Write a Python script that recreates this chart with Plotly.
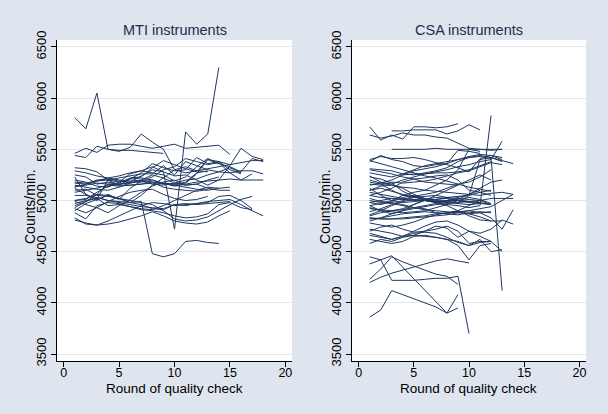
import plotly.graph_objects as go

# ---------------- data ----------------
mti_series = [
    [5810, 5700, 6050, 5500, 5490, 5490, 5480, 5470, 5460],
    [5460, 5510, 5470, 5540, 5550, 5550, 5530, 5510, 5530, 5550, 5510, 5520, 5530, 5540, 5450],
    [5440, 5420, 5530, 5500, 5480, 5520, 5650, 5570, 5500, 5300, 5270, 5290, 5310, 5330, 5350],
    [5130, 5160, 5190, 5220, 5240, 5270, 5290, 5330, 5280, 4720, 5670, 5550, 5650, 6300],
    [4950, 4990, 5030, 5000, 4990, 4980, 4990, 4480, 4450, 4480, 4600, 4610, 4590, 4580],
    [5320, 5310, 5280, 5200, 5150, 5210, 5270, 5360, 5320, 5290, 5300, 5420, 5360, 5380, 5350, 5370, 5390, 5390],
    [5290, 5270, 5240, 5220, 5200, 5190, 5200, 5180, 5170, 5160, 5170, 5260, 5400, 5360, 5330, 5280, 5410, 5380],
    [5250, 5230, 5160, 5180, 5160, 5170, 5190, 5160, 5150, 5170, 5200, 5210, 5250, 5280, 5270, 5290, 5290, 5260],
    [5170, 5160, 5200, 5210, 5190, 5180, 5180, 5200, 5170, 5140, 5160, 5180, 5190, 5200, 5210, 5200, 5200, 5200],
    [4830, 4770, 4760, 4800, 4850, 4900, 4950, 4980, 4970, 4950, 4960, 4970, 4990, 5000, 5010, 4960, 4900, 4850],
    [5100, 5110, 5050, 5040, 5020, 4980, 4960, 4920, 4910, 4960, 4950, 4970, 4980, 5040, 5050, 5000, 4920],
    [4880, 4820, 4950, 4980, 4970, 4940, 4910, 4900, 4880, 4850, 4830, 4840, 4870, 4960, 4980, 4930, 4910],
    [5000, 5020, 5060, 5050, 5020, 5000, 4980, 4960, 4900, 4820, 4800, 4810, 4840, 4900, 4960, 5010, 5040],
    [4810, 4780, 4760, 4770, 4790, 4820, 4850, 4890, 4850, 4800, 4780, 4770, 4790, 4850, 4900],
    [5230, 5060, 5010, 5200, 5220, 5240, 5260, 5260, 5340, 5250, 5380, 5340, 5300, 5280, 5320, 5270],
    [5120, 5060, 5000, 5060, 5010, 5120, 5190, 5230, 5300, 5330, 5410, 5380, 5350, 5370, 5270, 5200, 5260],
    [5000, 5010, 5080, 5140, 5160, 5180, 5240, 5300, 5280, 5240, 5250, 5200, 5150, 5200, 5340, 5510, 5430, 5400],
    [4930, 4990, 5060, 5160, 5170, 5220, 5230, 5320, 5390, 5350, 5310, 5280, 5400, 5380, 5300, 5260],
    [4990, 4960, 4930, 4880, 4950, 5010, 5080, 5140, 5180, 5200, 5150, 5160, 5120, 5100, 5100],
    [5140, 5150, 5170, 5160, 5150, 5150, 5160, 5170, 5170, 5150, 5130, 5110, 5100, 5120, 5130],
    [5050, 5050, 5030, 5000, 4980, 4960, 4940, 4930, 4920, 4960, 4970, 4960, 4970, 4980, 4990],
    [4970, 5000, 5020, 4950, 4960, 4940, 4920, 4910, 4950, 5000, 5050, 5100, 5130, 5120],
    [5200, 5180, 5140, 5130, 5180, 5260, 5290, 5270, 5250, 5190, 5230, 5330, 5410, 5360],
    [4900, 4970, 5010, 5050, 5020, 4980, 5050, 5150, 5220, 5300, 5330, 5290, 5280],
    [5150, 5130, 5110, 5100, 5130, 5170, 5200, 5250, 5220, 5170, 5150, 5160, 5200, 5230],
    [5080, 5100, 5120, 5150, 5140, 5150, 5160, 5180, 5130, 5110, 5100, 5090, 5110],
    [4920, 4880, 4930, 4990, 5040, 5080, 5100, 5110, 5060, 5020, 5000, 5010, 5040],
    [5180, 5170, 5190, 5200, 5180, 5210, 5220, 5200, 5160, 5150, 5180, 5270, 5290],
]

csa_series = [
    [5720, 5590, 5640, 5600, 5720, 5720, 5710, 5720, 5750],
    [None, None, 5680, 5680, 5690, 5690, 5690, 5650, 5680, 5740, 5690],
    [5640, 5610, 5630, 5660, 5640, 5640, 5620, 5610, 5560, 5510, 5500, 5490, 5500],
    [None, None, 5500, 5500, 5500, 5500, 5510, 5500, 5500, 5500, 5500, 5500, 5500],
    [5180, 5160, 5100, 5050, 5040, 5000, 4980, 4960, 4950, 4930, 4950, 5830],
    [5380, 5440, 5400, 5380, 5340, 5330, 5350, 5360, 5400, 5420, 5430, 5410, 4120],
    [5310, 5300, 5290, 5260, 5250, 5270, 5290, 5320, 5380, 5420, 5440, 5420, 5390, 5360],
    [5240, 5180, 5160, 5200, 5230, 5260, 5280, 5300, 5330, 5350, 5380, 5400, 5580],
    [5160, 5150, 5180, 5170, 5180, 5190, 5210, 5240, 5270, 5290, 5330, 5370, 5350],
    [5100, 5140, 5150, 5130, 5120, 5100, 5090, 5080, 5070, 5060, 5050, 5070, 5080, 5060],
    [5050, 5030, 5020, 5010, 5000, 5000, 5010, 5020, 5000, 4990, 5000, 5020, 5020, 5020],
    [4980, 4960, 4990, 5030, 5050, 5010, 4980, 4990, 5000, 4980, 4970, 4960],
    [4830, 4820, 4820, 4830, 4840, 4850, 4870, 4880, 4890, 4900, 4880, 4830, 4720, 4910],
    [4660, 4640, 4620, 4650, 4660, 4650, 4640, 4620, 4600, 4560, 4590, 4600],
    [4620, 4600, 4580, 4600, 4650, 4660, 4640, 4620, 4560, 4420, 4560, 4580],
    [4580, 4620, 4600, 4640, 4660, 4700, 4720, 4750, 4700, 4580, 4600, 4600, 4500],
    [4720, 4700, 4680, 4650, 4680, 4690, 4680, 4640, 4590, 4560, 4620, 4500, 4520],
    [4700, 4740, 4760, 4720, 4690, 4700, 4750, 4730, 4640, 4700, 4680, 4720, 4810, 4770],
    [5000, 4980, 4970, 4950, 4930, 4920, 4880, 4870, 4900, 4950, 5000, 4960],
    [4930, 4900, 4890, 4880, 4890, 4900, 4930, 4960, 5000, 5030, 5010, 4970],
    [4850, 4880, 4900, 4920, 4960, 5010, 5030, 5020, 5000, 4990, 4980],
    [5200, 5170, 5150, 5120, 5060, 5020, 4990, 4980, 4970, 4960, 4970],
    [5120, 5050, 5000, 4980, 4990, 5000, 5010, 5030, 5040, 5050, 5080, 5100],
    [4980, 5000, 5020, 5010, 5040, 5060, 5080, 5120, 5160, 5180, 5230, 5300],
    [4890, 4920, 4960, 5000, 5030, 5040, 5050, 5030, 5020, 5010, 5000],
    [5390, 5360, 5330, 5300, 5270, 5240, 5220, 5190, 5160, 5130, 5110, 5090],
    [4820, 4830, 4850, 4870, 4880, 4890, 4880, 4870, 4860, 4880, 4890, 4880],
    [4780, 4760, 4740, 4760, 4790, 4830, 4860, 4880, 4900, 4870, 4840, 4800],
    [5270, 5250, 5230, 5260, 5300, 5340, 5360, 5380, 5400, 5430, 5450, 5440, 5420],
    [5150, 5170, 5200, 5250, 5290, 5310, 5330, 5360, 5490, 5480, 5460],
    [5400, 5430, 5410, 5410, 5420, 5400, 5370, 5350, 5320, 5280, 5410, 5440, 5400],
    [4950, 4900, 4870, 4900, 4960, 5000, 5050, 5100, 5150, 5200, 5250, 5200],
    [4860, 4900, 4950, 4990, 5010, 5000, 4980, 4950, 4900, 4850, 4810, 4800, 4800],
    [5050, 5080, 5120, 5180, 5210, 5220, 5240, 5250, 5200, 5100, 5080, 5050],
    [5230, 5210, 5170, 5090, 5040, 5000, 4990, 5000, 5010, 5060, 5120, 5180, 5200],
    [4680, 4650, 4620, 4650, 4700, 4750, 4790, 4800, 4760, 4700, 4650, 4600],
    [None, None, None, 5250, 5260, 5260, 5270, 5270, 5280, 5300, 5340, 5380],
    [5020, 4990, 4980, 4960, 4930, 4910, 4900, 4890, 4880, 4870, 4880, 4890],
    [4800, 4830, 4870, 4900, 4920, 4940, 4960, 4970, 4980, 4990],
    [5100, 5120, 5090, 5060, 5030, 5020, 5000, 4990, 4980, 5050, 5400, 5420, 5380],
    [4950, 4970, 5000, 5050, 5080, 5100, 5150, 5200, 5300, 5500, 5480],
    [4920, 4910, 4900, 4910, 4930, 4950, 4970, 5000, 5030, 5060, 5100],
    [5300, 5280, 5260, 5230, 5210, 5180, 5170, 5160, 5150],
    [4450, 4420, 4460, 4350, 4240, 4120, 4010, 3900, 4080],
    [3860, 3930, 4120, 4080, 4040, 4000, 3960, 3900, 3950],
    [4380, 4420, 4220, 4220, 4220, 4230, 4240, 4240, 4260, 3700],
    [4200, 4250, 4290, 4320, 4350, 4380, 4410, 4430, 4410, 4390],
    [4230, 4330, 4450, 4400, 4360, 4320, 4280, 4260, 4180],
    [5080, 5060, 5040, 5020, 5010, 5000, 4990, 5000, 5000, 4990, 4980, 4960],
    [4830, 4820, 4820, 4820, 4830, 4840, 4850, 4860, 4880, 4900, 4920, 4940, 5000, 5060],
]

panel_titles = ["MTI instruments", "CSA instruments"]
x_ticks = [0, 5, 10, 15, 20]
y_ticks = [3500, 4000, 4500, 5000, 5500, 6000, 6500]
x_title = "Round of quality check"
y_title = "Counts/min."

# ---------------- style ----------------
BG = "#dfe5ef"
LINE = "#1e3761"
FONT = "Liberation Sans, Arial, sans-serif"

fig = go.Figure()

for axis_suffix, series_list in (("", mti_series), ("2", csa_series)):
    for s in series_list:
        fig.add_trace(go.Scatter(
            x=list(range(1, len(s) + 1)), y=s,
            mode="lines", line=dict(color=LINE, width=1),
            xaxis="x" + axis_suffix, yaxis="y" + axis_suffix,
            showlegend=False, hoverinfo="skip", connectgaps=False,
        ))

W, H = 608, 414
def fx(px):
    return px / W
def fy(py):
    return 1 - py / H

xaxis_common = dict(
    range=[-0.6, 20.6], tickvals=x_ticks, ticks="outside", ticklen=5,
    tickcolor="black", showline=True, linecolor="black", linewidth=1,
    showgrid=False, zeroline=False, automargin=False, ticklabelstandoff=-5,
    tickfont=dict(size=12.5, color="black", family=FONT),
)
yaxis_common = dict(
    range=[3432, 6568], tickvals=y_ticks, ticks="outside", ticklen=5,
    tickcolor="black", showline=True, linecolor="black", linewidth=1,
    showgrid=True, gridcolor="#e3e6ea", gridwidth=1, zeroline=False, automargin=False,
    tickangle=-90, tickfont=dict(size=13, color="black", family=FONT),
)

panels = [(57, 292), (352, 586)]
annotations = []
for (x0, x1), title in zip(panels, panel_titles):
    cx = (fx(x0) + fx(x1)) / 2
    annotations.append(dict(text=title, x=cx, y=fy(30), xref="paper", yref="paper",
                            xanchor="center", yanchor="middle", showarrow=False,
                            font=dict(size=14.5, color="#1c2e4a", family=FONT)))
    annotations.append(dict(text=x_title, x=cx, y=fy(388), xref="paper", yref="paper",
                            xanchor="center", yanchor="middle", showarrow=False,
                            font=dict(size=13.5, color="black", family=FONT)))
    annotations.append(dict(text=y_title, x=fx(x0 - 27), y=fy(207), xref="paper", yref="paper",
                            xanchor="center", yanchor="middle", showarrow=False, textangle=-90,
                            font=dict(size=14, color="black", family=FONT)))

fig.update_layout(
    width=W, height=H,
    margin=dict(l=0, r=0, t=0, b=0, autoexpand=False),
    paper_bgcolor=BG, plot_bgcolor="white",
    font=dict(family=FONT),
    xaxis=dict(domain=[fx(57), fx(292)], anchor="y", **xaxis_common),
    yaxis=dict(domain=[fy(361), fy(40)], anchor="x", **yaxis_common),
    xaxis2=dict(domain=[fx(352), fx(586)], anchor="y2", **xaxis_common),
    yaxis2=dict(domain=[fy(361), fy(40)], anchor="x2", **yaxis_common),
    annotations=annotations,
)

fig.write_html("out.html", config={"displayModeBar": False},
               post_script="document.body.style.margin='0';document.body.style.background='" + BG + "';")
